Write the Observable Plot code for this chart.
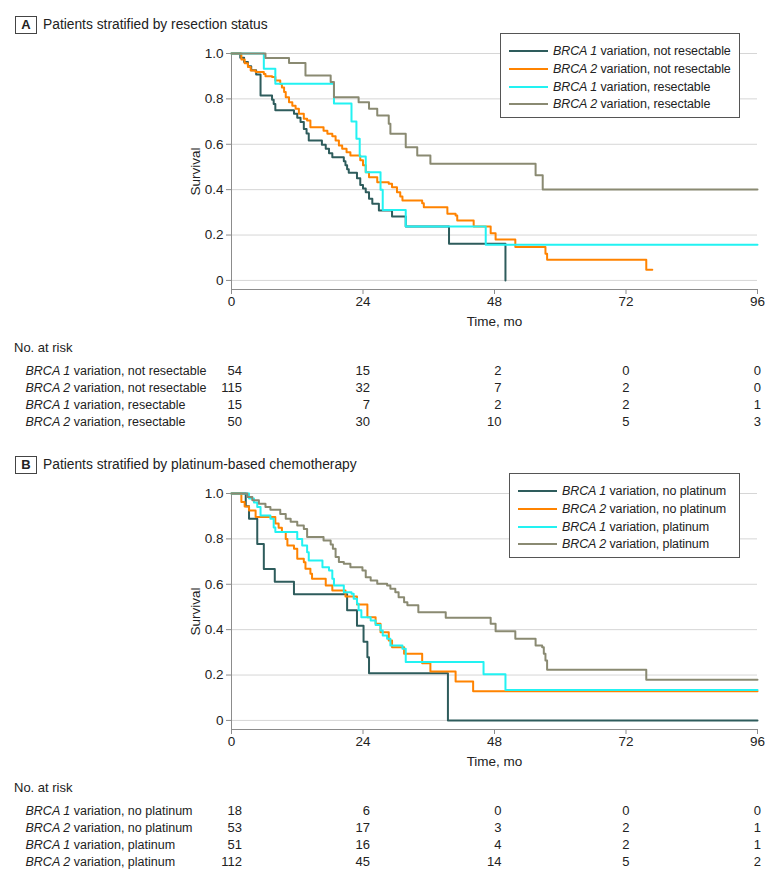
<!DOCTYPE html>
<html><head><meta charset="utf-8">
<script src="https://cdn.jsdelivr.net/npm/d3@7"></script>
<script src="https://cdn.jsdelivr.net/npm/@observablehq/plot@0.6"></script>
<style>
body{margin:0;background:#fff;}
#fig{position:relative;width:783px;height:879px;font-family:"Liberation Sans",Arial,sans-serif;color:#222;overflow:hidden;}
.abs{position:absolute;}
.badge{border:1.3px solid #444;font-weight:bold;font-size:13px;text-align:center;box-sizing:border-box;width:22px;height:18px;line-height:16px;}
.title{font-size:13.8px;white-space:nowrap;line-height:18px;}
.risk{font-size:13px;line-height:18px;white-space:nowrap;}
.legend{border:1px solid #555;box-sizing:border-box;background:#fff;}
.legrow{position:absolute;height:18px;display:flex;align-items:center;white-space:nowrap;font-size:12.5px;letter-spacing:-0.1px;}
.sw{width:39px;height:2px;margin-right:5px;}
</style></head><body><div id="fig"></div><script>
const FONT = '"Liberation Sans",Arial,sans-serif';
const xTicks = [0, 24, 48, 72, 96];
const yTicks = [0, 0.2, 0.4, 0.6, 0.8, 1];
const Y_FLOOR = -0.04;

// Panel A
const titleA = "Patients stratified by resection status";
const namesA = ["BRCA 1 variation, not resectable", "BRCA 2 variation, not resectable", "BRCA 1 variation, resectable", "BRCA 2 variation, resectable"];
const colorsA = ["#2e5c5c", "#ff8300", "#22f2f2", "#8a8a72"];
const tA1 = [0, 1.6, 2.3, 3.0, 3.6, 4.5, 5.3, 7.4, 7.7, 8.0, 11.4, 12.0, 12.6, 13.2, 13.7, 14.1, 16.5, 17.2, 17.8, 18.4, 20.5, 20.8, 21.1, 21.4, 22.9, 23.5, 24.0, 24.5, 25.1, 25.7, 26.9, 29.3, 31.8, 39.7, 50.0];
const sA1 = [1, 0.981, 0.963, 0.944, 0.926, 0.907, 0.815, 0.796, 0.778, 0.75, 0.735, 0.717, 0.698, 0.667, 0.648, 0.617, 0.598, 0.58, 0.56, 0.543, 0.525, 0.507, 0.49, 0.475, 0.45, 0.42, 0.405, 0.389, 0.36, 0.338, 0.308, 0.282, 0.238, 0.162, 0];
const tA2 = [0, 1.8, 2.4, 3.0, 3.5, 4.4, 5.9, 6.2, 7.4, 8.0, 8.9, 9.2, 9.6, 9.9, 10.5, 11.1, 11.7, 12.3, 13.2, 13.8, 14.4, 16.8, 17.5, 18.4, 19.0, 19.6, 20.2, 21.0, 21.7, 23.5, 24.0, 24.5, 25.1, 26.6, 28.7, 29.3, 30.2, 30.8, 31.2, 34.8, 35.1, 39.4, 40.9, 41.2, 44.2, 47.3, 48.2, 51.8, 57.3, 57.6, 75.7, 76.8];
const sA2 = [1, 0.974, 0.957, 0.94, 0.925, 0.918, 0.91, 0.9, 0.896, 0.881, 0.866, 0.85, 0.83, 0.807, 0.785, 0.77, 0.756, 0.734, 0.712, 0.705, 0.675, 0.66, 0.646, 0.635, 0.617, 0.595, 0.58, 0.565, 0.55, 0.53, 0.507, 0.477, 0.455, 0.433, 0.426, 0.411, 0.389, 0.37, 0.352, 0.34, 0.323, 0.294, 0.286, 0.264, 0.238, 0.208, 0.18, 0.147, 0.118, 0.091, 0.047, 0.047];
const tA3 = [0, 5.9, 8.0, 18.7, 21.9, 22.8, 23.4, 24.5, 27.2, 27.6, 31.8, 46.4, 96];
const sA3 = [1, 0.933, 0.867, 0.78, 0.70, 0.624, 0.546, 0.477, 0.40, 0.31, 0.238, 0.157, 0.157];
const tA4 = [0, 6.2, 10.5, 13.5, 18.1, 18.7, 23.2, 25.1, 26.6, 28.7, 29.0, 31.8, 33.9, 36.3, 55.5, 56.8, 96];
const sA4 = [1, 0.98, 0.958, 0.903, 0.874, 0.807, 0.785, 0.756, 0.727, 0.69, 0.646, 0.587, 0.551, 0.514, 0.463, 0.401, 0.401];
const riskA1 = [54, 15, 2, 0, 0];
const riskA2 = [115, 32, 7, 2, 0];
const riskA3 = [15, 7, 2, 2, 1];
const riskA4 = [50, 30, 10, 5, 3];

// Panel B
const titleB = "Patients stratified by platinum-based chemotherapy";
const namesB = ["BRCA 1 variation, no platinum", "BRCA 2 variation, no platinum", "BRCA 1 variation, platinum", "BRCA 2 variation, platinum"];
const colorsB = ["#2e5c5c", "#ff8300", "#22f2f2", "#8a8a72"];
const tB1 = [0, 2.6, 3.2, 4.7, 5.9, 7.9, 11.4, 21.1, 22.9, 24.1, 24.8, 25.1, 39.5, 96];
const sB1 = [1, 0.944, 0.889, 0.778, 0.667, 0.611, 0.556, 0.486, 0.417, 0.347, 0.278, 0.208, 0, 0];
const tB2 = [0, 1.8, 2.4, 3.2, 4.4, 8.0, 8.6, 9.2, 9.9, 10.2, 11.4, 12.0, 13.2, 13.5, 14.4, 14.7, 17.2, 18.4, 20.8, 22.9, 24.8, 26.3, 27.2, 28.7, 29.3, 31.5, 34.8, 36.3, 40.9, 44.1, 96];
const sB2 = [1, 0.962, 0.943, 0.925, 0.896, 0.868, 0.849, 0.83, 0.80, 0.771, 0.756, 0.712, 0.697, 0.668, 0.646, 0.624, 0.595, 0.573, 0.546, 0.511, 0.455, 0.426, 0.389, 0.352, 0.323, 0.294, 0.252, 0.216, 0.172, 0.129, 0.129];
const tB3 = [0, 3.2, 4.1, 4.7, 5.3, 7.1, 7.7, 8.0, 12.0, 12.9, 13.8, 14.1, 16.6, 17.8, 18.4, 18.7, 20.5, 21.9, 22.3, 22.9, 23.2, 23.7, 25.4, 26.3, 27.2, 27.6, 28.4, 29.0, 31.2, 31.8, 46.0, 50.0, 96];
const sB3 = [1, 0.978, 0.96, 0.94, 0.903, 0.889, 0.85, 0.83, 0.80, 0.771, 0.741, 0.705, 0.675, 0.661, 0.624, 0.595, 0.565, 0.558, 0.536, 0.514, 0.485, 0.455, 0.44, 0.42, 0.396, 0.374, 0.36, 0.33, 0.316, 0.257, 0.203, 0.134, 0.134];
const tB4 = [0, 2.9, 3.8, 5.0, 6.2, 7.1, 8.9, 9.9, 10.8, 12.0, 13.2, 13.8, 16.8, 18.1, 18.5, 19.0, 19.6, 20.5, 21.7, 23.9, 24.5, 25.4, 26.6, 28.4, 29.0, 29.9, 30.5, 31.5, 32.1, 34.1, 39.1, 47.3, 48.2, 51.8, 55.5, 56.7, 57.0, 57.3, 57.6, 75.7, 96];
const sB4 = [1, 0.985, 0.97, 0.955, 0.94, 0.928, 0.91, 0.889, 0.875, 0.859, 0.844, 0.808, 0.793, 0.775, 0.756, 0.72, 0.698, 0.69, 0.675, 0.661, 0.631, 0.617, 0.602, 0.595, 0.58, 0.565, 0.543, 0.521, 0.507, 0.477, 0.452, 0.426, 0.393, 0.36, 0.33, 0.323, 0.294, 0.264, 0.223, 0.179, 0.179];
const riskB1 = [18, 6, 0, 0, 0];
const riskB2 = [53, 17, 3, 2, 1];
const riskB3 = [51, 16, 4, 2, 1];
const riskB4 = [112, 45, 14, 5, 2];

const fig = document.getElementById("fig");
const NS = "http://www.w3.org/2000/svg";

function italicize(svg) {
  svg.querySelectorAll("text").forEach(t => {
    if (t.children.length) return;
    const m = (t.textContent || "").match(/^(BRCA \d)(.*)$/);
    if (!m) return;
    t.textContent = "";
    const a = document.createElementNS(NS, "tspan");
    a.setAttribute("font-style", "italic");
    a.textContent = m[1];
    t.appendChild(a);
    t.appendChild(document.createTextNode(m[2]));
  });
}

function place(el, left, top) {
  const d = document.createElement("div");
  d.className = "abs";
  d.style.left = left + "px";
  d.style.top = top + "px";
  d.appendChild(el);
  fig.appendChild(d);
  return d;
}

function kmPlot(names, times, survs, colors) {
  const data = names.flatMap((g, i) => times[i].map((t, j) => ({g, t, s: survs[i][j]})));
  return Plot.plot({
    width: 783, height: 294, marginLeft: 231, marginRight: 26, marginTop: 13, marginBottom: 45,
    style: {fontFamily: FONT, fontSize: "13.5px", color: "#222", background: "transparent", overflow: "visible"},
    x: {domain: [0, 96], axis: null},
    y: {domain: [Y_FLOOR, 1], axis: null},
    color: {domain: names, range: colors},
    marks: [
      Plot.gridY({ticks: yTicks, stroke: "#d6d6d6", strokeOpacity: 1}),
      Plot.ruleX([0], {stroke: "#8c8c8c"}),
      Plot.ruleY([Y_FLOOR], {stroke: "#8c8c8c"}),
      Plot.axisY({ticks: yTicks, tickFormat: d => d === 0 ? "0" : d.toFixed(1), tickSize: 5, tickPadding: 3,
        stroke: "#8c8c8c", fill: "#222", label: "Survival", labelAnchor: "center", labelOffset: 41, labelArrow: "none"}),
      Plot.axisX({ticks: xTicks, tickSize: 5, tickPadding: 2, stroke: "#8c8c8c", fill: "#222",
        label: "Time, mo", labelAnchor: "center", labelOffset: 36, labelArrow: "none"}),
      Plot.line(data, {x: "t", y: "s", z: "g", stroke: "g", curve: "step-after", strokeWidth: 2})
    ]
  });
}

function riskPlot(names, counts) {
  const data = names.flatMap((g, i) => xTicks.map((t, j) => ({g, t, j, n: counts[i][j]})));
  const maxLen = xTicks.map((t, j) => d3.max(counts, c => String(c[j]).length));
  const svg = Plot.plot({
    width: 783, height: 75, marginLeft: 231, marginRight: 26, marginTop: 11, marginBottom: 12,
    style: {fontFamily: FONT, fontSize: "13px", color: "#222", background: "transparent", overflow: "visible"},
    x: {domain: [0, 96], axis: null},
    y: {type: "point", domain: names, padding: 0, axis: null},
    marks: [
      ...xTicks.map((t, j) => Plot.text(data.filter(d => d.j === j),
        {x: "t", y: "g", text: d => String(d.n), textAnchor: "end", dx: maxLen[j] * 3.5, fontSize: 13, fill: "#222"})),
      Plot.text(names, {y: d => d, text: d => d, frameAnchor: "left", textAnchor: "start", dx: -206, fontSize: 12.5, fill: "#222", letterSpacing: "-0.1px"})
    ]
  });
  italicize(svg);
  return svg;
}

function legend(names, colors, left, top, width) {
  const box = document.createElement("div");
  box.className = "legend";
  box.style.width = width + "px";
  box.style.height = "85px";
  box.style.position = "relative";
  const rowsY = [17, 34.7, 52.7, 70.3];
  names.forEach((n, i) => {
    const r = document.createElement("div");
    r.className = "legrow";
    r.style.left = "8px";
    r.style.top = (rowsY[i] - 9) + "px";
    const sw = document.createElement("div");
    sw.className = "sw";
    sw.style.background = colors[i];
    r.appendChild(sw);
    const m = n.match(/^(BRCA \d)(.*)$/);
    const tx = document.createElement("span");
    tx.innerHTML = "<i>" + m[1] + "</i>" + m[2];
    r.appendChild(tx);
    box.appendChild(r);
  });
  place(box, left, top);
}

function panel(letter, title, names, colors, times, survs, counts, off, legLeft, legWidth) {
  const b = document.createElement("div");
  b.className = "badge";
  b.textContent = letter;
  place(b, 15, 16 + off);
  const t = document.createElement("div");
  t.className = "title";
  t.textContent = title;
  place(t, 43, 16 + off);
  place(kmPlot(names, times, survs, colors), 0, 40 + off);
  legend(names, colors, legLeft, 33 + off, legWidth);
  const nr = document.createElement("div");
  nr.className = "risk";
  nr.textContent = "No. at risk";
  place(nr, 14, 339 + off);
  place(riskPlot(names, counts), 0, 358 + off);
}

panel("A", titleA, namesA, colorsA, [tA1, tA2, tA3, tA4], [sA1, sA2, sA3, sA4], [riskA1, riskA2, riskA3, riskA4], 0, 500, 240);
panel("B", titleB, namesB, colorsB, [tB1, tB2, tB3, tB4], [sB1, sB2, sB3, sB4], [riskB1, riskB2, riskB3, riskB4], 440, 509, 231);
</script></body></html>
